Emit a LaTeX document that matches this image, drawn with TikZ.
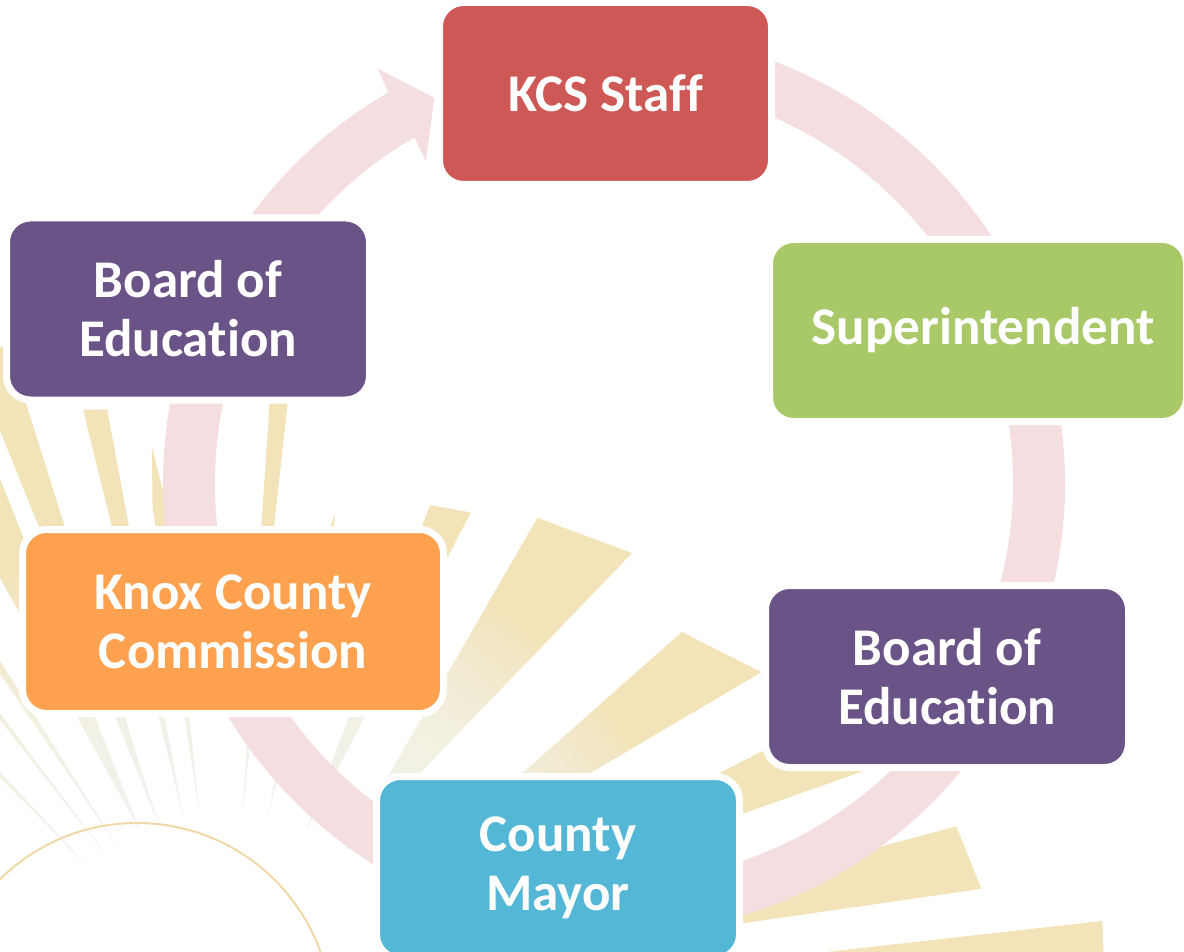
\documentclass[tikz,border=0pt]{standalone}
\usepackage{fontspec}
\setmainfont{Carlito}[Ligatures=CommonOff]
\usetikzlibrary{backgrounds}

\definecolor{kcsred}{HTML}{CD5856}
\definecolor{supgreen}{HTML}{A9C867}
\definecolor{boardpurple}{HTML}{6A5387}
\definecolor{knoxorange}{HTML}{FFA14F}
\definecolor{mayorblue}{HTML}{55B7D6}
\definecolor{ringpink}{HTML}{F5DEDF}
\definecolor{raytan}{HTML}{F2E3B9}
\definecolor{suntan}{HTML}{EFD9A8}

\tikzset{
    stepbox/.style={
        rectangle, rounded corners=24pt, draw=white, line width=7pt,
        text=white, align=center, minimum height=182pt,
        font=\bfseries\fontsize{53}{59}\selectfont
    },
}

\begin{document}
\begin{tikzpicture}[x=1pt, y=-1pt]
    \useasboundingbox (0,0) rectangle (1184,952);

    \node[stepbox, fill=kcsred, minimum width=332pt] (kcs) at (605.5,93.5) {KCS Staff};
    \node[stepbox, fill=supgreen, minimum width=417pt] (supt) at (978,330.5) {\hspace*{10pt}Superintendent};
    \node[stepbox, fill=boardpurple, minimum width=363pt] (boardR) at (947,676.5) {Board of\\Education};
    \node[stepbox, fill=mayorblue, minimum width=363pt] (mayor) at (558,867.5) {County\\Mayor};
    \node[stepbox, fill=knoxorange, minimum width=421pt, minimum height=184pt] (knox) at (233,621.5) {Knox County\\Commission};
    \node[stepbox, fill=boardpurple, minimum width=363pt] (boardL) at (188,309) {Board of\\Education};

    \begin{scope}[on background layer]
        \clip (0,0) rectangle (1184,952);
        % sun rays
        \begin{scope}[shift={(225,1010)}]
            \foreach \a/\ra/\b/\rb in {-5.8/882/-1.5/880, -14.1/754/-9.1/766,
                -26/760/-20.4/760, -39.6/593/-32.2/634, -57.6/583/-48.3/612,
                -67.9/545/-63.7/555, -85.8/610/-84.1/611, -103.3/617/-101.1/612,
                -111.3/700/-108.1/700, -118/720/-112.7/720, -124/700/-122.6/700,
                -128/700/-127/700, -134.3/700/-133.1/700}
                \fill[raytan] ({(\a+\b)/2}:200) -- (\a:\ra) -- (\b:\rb) -- cycle;
            \foreach \a/\r in {-77.5/510, -97.4/568}
                \fill[raytan] (\a:200) -- ({\a-0.8}:{\r-60}) -- (\a:\r) -- ({\a+0.8}:{\r-60}) -- cycle;
            \foreach \r in {180,190,...,480}
                \fill[white, opacity=0.065] (0,0) circle (\r);
        \end{scope}
        \draw[suntan, line width=2pt] (137,1018) circle (195);
        % cycle ring
        \fill[ringpink, shift={(614,483)}] (-95:451) arc[start angle=-95, end angle=240, radius=451]
            -- (240.3:477) -- (245:425) -- (239.7:373) -- (240:399)
            arc[start angle=240, end angle=-95, radius=399] -- cycle;
    \end{scope}
\end{tikzpicture}
\end{document}
